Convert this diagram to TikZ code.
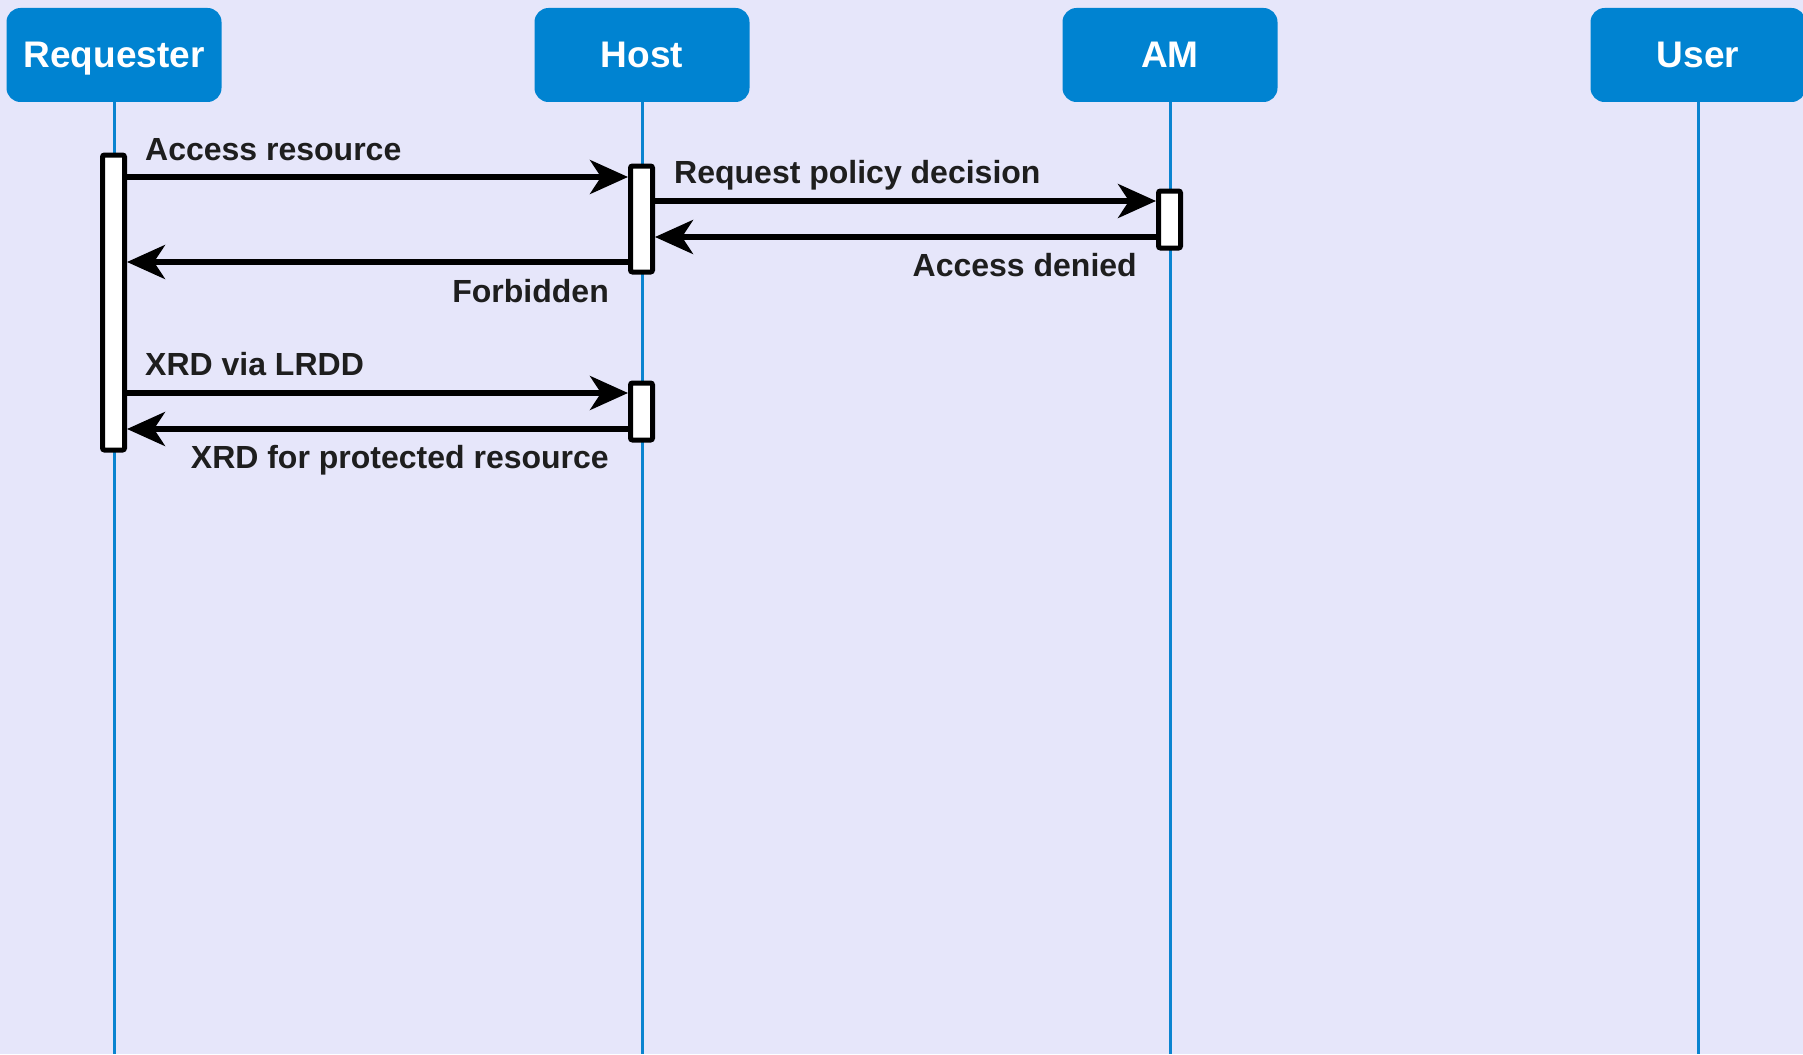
\documentclass[tikz,border=0pt]{standalone}
\usepackage{fontspec}
\setmainfont{Liberation Sans}
\usetikzlibrary{arrows.meta}
\definecolor{bg}{HTML}{E6E6FA}
\definecolor{headblue}{HTML}{0083D1}
\definecolor{lifeblue}{HTML}{0A84D0}
\definecolor{txt}{HTML}{1E1E1E}
\tikzset{
  head/.style={fill=headblue, rounded corners=14pt, minimum width=215pt, minimum height=94pt, inner sep=0pt},
  headtext/.style={text=white, font=\fontsize{37}{40}\selectfont\bfseries, anchor=base, inner sep=0pt},
  life/.style={draw=lifeblue, line width=3pt},
  actbox/.style={draw=black, fill=white, line width=5pt, rounded corners=2pt, minimum width=22pt, inner sep=0pt},
  msg/.style={draw=black, line width=5.5pt, -{Stealth[length=38pt,width=34pt,inset=11pt]}},
  lbl/.style={text=txt, font=\fontsize{32}{36}\selectfont\bfseries, inner sep=0pt}
}
\begin{document}
\begin{tikzpicture}[x=1pt,y=-1pt]
\fill[bg] (0,0) rectangle (1803,1054);
\useasboundingbox (0,0) rectangle (1803,1054);
% heads
\node[head] (req) at (114,55) {};
\node[head] (host) at (642,55) {};
\node[head] (am) at (1170,55) {};
\node[head] (user) at (1698,55) {};
\node[headtext] (reqt) at (114,68) {Requester};
\node[headtext] (hostt) at (642,68) {Host};
\node[headtext] (amt) at (1170,68) {AM};
\node[headtext] (usert) at (1698,68) {User};
% lifeline ends
\coordinate (reqe) at (114,1054);
\coordinate (hoste) at (642,1054);
\coordinate (ame) at (1170,1054);
\coordinate (usere) at (1698,1054);
\draw[life] (req.south) -- (reqe);
\draw[life] (host.south) -- (hoste);
\draw[life] (am.south) -- (ame);
\draw[life] (user.south) -- (usere);
% activations
\node[actbox, minimum height=295pt] (ra) at (113.5,302.5) {};
\node[actbox, minimum height=106pt] (ha1) at (641.5,219) {};
\node[actbox, minimum height=57pt] (aa) at (1169.5,219.5) {};
\node[actbox, minimum height=57pt] (ha2) at (641.5,411.5) {};
% messages
\draw[msg] (ra.east |- 0,177) -- (ha1.west |- 0,177);
\draw[msg] (ha1.east |- 0,201) -- (aa.west |- 0,201);
\draw[msg] (aa.west |- 0,237) -- (ha1.east |- 0,237);
\draw[msg] (ha1.west |- 0,262) -- (ra.east |- 0,262);
\draw[msg] (ra.east |- 0,393) -- (ha2.west |- 0,393);
\draw[msg] (ha2.west |- 0,429) -- (ra.east |- 0,429);
% labels
\node[lbl, anchor=base west] (l1) at (145,160) {Access resource};
\node[lbl, anchor=base west] (l2) at (674,183) {Request policy decision};
\node[lbl, anchor=base east] (l3) at (1137,276) {Access denied};
\node[lbl, anchor=base east] (l4) at (609,302) {Forbidden};
\node[lbl, anchor=base west] (l5) at (145,375) {XRD via LRDD};
\node[lbl, anchor=base east] (l6) at (609,468) {XRD for protected resource};
\end{tikzpicture}
\end{document}
